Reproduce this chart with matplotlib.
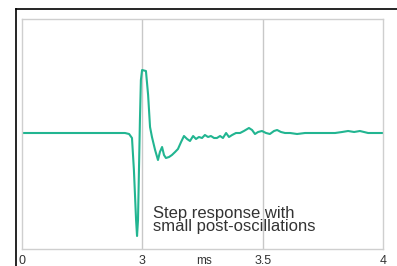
import matplotlib
matplotlib.use("Agg")
import matplotlib.pyplot as plt
from matplotlib.lines import Line2D

# time in ms (axis shown from 2.5 to 4 ms, first tick labelled "0")
t = [2.500, 2.928, 2.945, 2.957, 2.965, 2.974, 2.978, 2.982, 2.986, 2.990,
     2.994, 2.999, 3.015, 3.024, 3.032, 3.040, 3.053, 3.065, 3.073, 3.082,
     3.090, 3.098, 3.111, 3.123, 3.136, 3.148, 3.161, 3.173, 3.186, 3.198,
     3.211, 3.223, 3.235, 3.248, 3.260, 3.273, 3.285, 3.298, 3.310, 3.323,
     3.335, 3.348, 3.360, 3.373, 3.389, 3.406, 3.422, 3.443, 3.456, 3.468,
     3.481, 3.497, 3.514, 3.530, 3.547, 3.560, 3.576, 3.593, 3.614, 3.643,
     3.676, 3.713, 3.759, 3.801, 3.830, 3.855, 3.880, 3.904, 3.921, 3.938,
     4.000]
amp = [0.00, 0.00, -0.01, -0.05, -0.37, -0.87, -1.03, -0.87, -0.37, 0.13,
       0.53, 0.63, 0.62, 0.38, 0.06, -0.04, -0.17, -0.27, -0.19, -0.14,
       -0.22, -0.25, -0.24, -0.22, -0.19, -0.16, -0.09, -0.03, -0.06, -0.08,
       -0.03, -0.06, -0.04, -0.05, -0.02, -0.04, -0.03, -0.05, -0.05, -0.03,
       -0.05, 0.00, -0.04, -0.02, 0.00, 0.00, 0.02, 0.05, 0.03, -0.01,
       0.01, 0.02, 0.00, -0.01, 0.02, 0.03, 0.01, 0.00, 0.00, -0.01,
       0.00, 0.00, 0.00, 0.00, 0.01, 0.02, 0.01, 0.02, 0.01, 0.00,
       0.00]

tick_pos = [2.5, 3.0, 3.5, 4.0]
tick_labels = ["0", "3", "3.5", "4"]
grid_pos = [3.0, 3.5]
unit_pos = [3.256]
unit_label = ["ms"]
annotation = "Step response with\nsmall post-oscillations"

fig = plt.figure(figsize=(3.97, 2.66), dpi=100)
W, H = 397, 266
ax = fig.add_axes([22 / W, 17 / H, (383 - 22) / W, (249 - 19.5) / H])

ax.plot(t, amp, color="#22b591", lw=1.5, solid_joinstyle="round")
for g in grid_pos:
    ax.axvline(g, color="#c8c8c8", lw=1.0, zorder=0)

ax.set_xlim(2.5, 4.0)
ax.set_ylim(-1.16, 1.135)
ax.set_yticks([])
ax.set_xticks(tick_pos)
ax.set_xticklabels(tick_labels, fontsize=9, color="#333333", family="Liberation Sans")
ax.set_xticks(unit_pos, minor=True)
ax.set_xticklabels(unit_label, minor=True, fontsize=8.5, color="#333333",
                   family="Liberation Sans")
ax.tick_params(axis="x", which="both", length=0, pad=4)
for s in ax.spines.values():
    s.set_color("#cfcfcf")
    s.set_linewidth(1.0)

ax.text(3.045, -0.87, annotation, ha="left", va="center", fontsize=12,
        color="#333333", family="Liberation Sans", linespacing=0.85)

# outer black border (left and top)
fig.add_artist(Line2D([15.5 / W, 15.5 / W], [0, (H - 9) / H], color="black",
                      lw=1.2, transform=fig.transFigure))
fig.add_artist(Line2D([15.5 / W, 1.0], [(H - 9) / H, (H - 9) / H], color="black",
                      lw=1.2, transform=fig.transFigure))

fig.savefig("out.png", dpi=100)
